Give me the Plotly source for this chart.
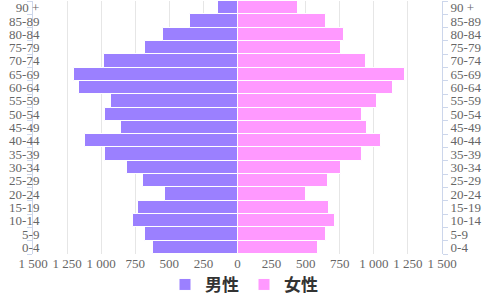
import plotly.graph_objects as go

categories = ["0-4", "5-9", "10-14", "15-19", "20-24", "25-29", "30-34", "35-39",
              "40-44", "45-49", "50-54", "55-59", "60-64", "65-69", "70-74",
              "75-79", "80-84", "85-89", "90 +"]
male = [617, 678, 768, 727, 531, 690, 812, 971, 1117, 856, 971, 927, 1166, 1198,
        978, 678, 546, 348, 141]
female = [588, 652, 713, 669, 500, 662, 762, 911, 1050, 950, 911, 1020, 1140, 1226,
          940, 757, 781, 652, 444]
tick_vals = [-1500, -1250, -1000, -750, -500, -250, 0, 250, 500, 750, 1000, 1250, 1500]
tick_text = ["1 500", "1 250", "1 000", "750", "500", "250", "0",
             "250", "500", "750", "1 000", "1 250", "1 500"]

male_color = "#9B80FF"
female_color = "#FF99FF"

fig = go.Figure()
fig.add_trace(go.Bar(
    y=categories, x=[-v for v in male], orientation="h", name="男性",
    marker=dict(color=male_color, line=dict(color="white", width=1)),
    yaxis="y",
))
fig.add_trace(go.Bar(
    y=categories, x=female, orientation="h", name="女性",
    marker=dict(color=female_color, line=dict(color="white", width=1)),
    yaxis="y2",
))

tick_font = dict(family="Liberation Serif", size=13, color="#666666")

cat_axis = dict(
    type="category", categoryorder="array", categoryarray=categories,
    range=[-0.5, len(categories) - 0.5],
    tickmode="linear", tick0=0, dtick=1,
    showline=True, linecolor="#CCD6EB", linewidth=1,
    ticks="outside", ticklen=5, tickcolor="#CCD6EB", tickson="boundaries",
    showgrid=False, zeroline=False, tickfont=tick_font, automargin=False,
)

fig.update_layout(
    width=488, height=298,
    margin=dict(l=33, r=46, t=1, b=44),
    paper_bgcolor="white", plot_bgcolor="white",
    barmode="overlay", bargap=0,
    xaxis=dict(
        range=[-1500, 1500], tickvals=tick_vals, ticktext=tick_text,
        showgrid=True, gridcolor="#E6E6E6", gridwidth=1, zeroline=False,
        showline=False, ticks="",
        tickfont=tick_font, automargin=False,
    ),
    yaxis=dict(cat_axis, side="left", ticklabelstandoff=-10),
    yaxis2=dict(cat_axis, side="right", overlaying="y", ticklabelstandoff=5),
    showlegend=True,
    legend=dict(
        orientation="h", xref="container", yref="container",
        x=0.5, xanchor="center", y=0.044, yanchor="middle",
        font=dict(family="Noto Sans CJK JP", size=17, color="#333333", weight="bold"),
        bgcolor="rgba(0,0,0,0)",
        itemclick=False, itemdoubleclick=False,
    ),
)

fig.write_html("out.html", config={"displayModeBar": False},
               post_script="document.body.style.margin='0';")
